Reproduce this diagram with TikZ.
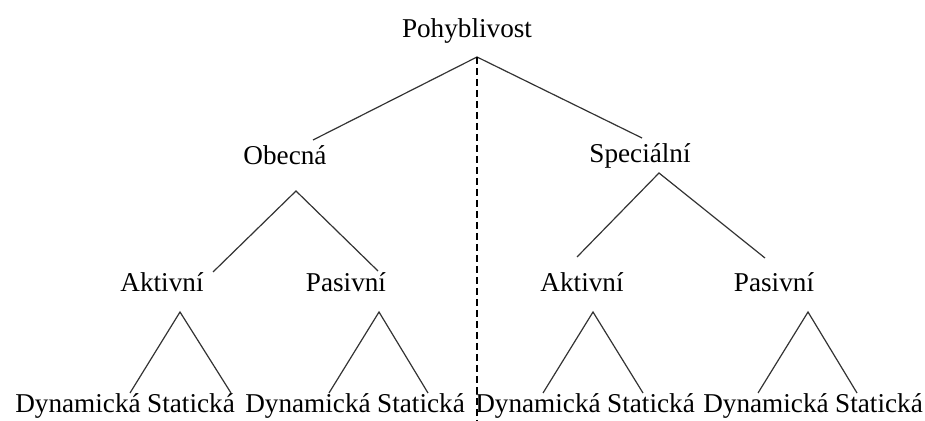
\documentclass[tikz,border=0pt]{standalone}
\usepackage{fontspec}
\setmainfont{Liberation Serif}
\begin{document}
\begin{tikzpicture}[x=0.5pt,y=-0.5pt,
  lbl/.style={anchor=base,inner sep=0pt,font=\fontsize{13.6pt}{16pt}\selectfont},
  edge/.style={line width=0.6pt,draw=black!80},
  divider/.style={line width=0.6pt,draw=black,dash pattern=on 3.5pt off 2pt}]
\useasboundingbox (0,0) rectangle (925,421);

% labels of the tree
\node[lbl] (root) at (467,38) {Pohyblivost};
\node[lbl] (gen)  at (285,165) {Obecná};
\node[lbl] (spec) at (640,163) {Speciální};
\node[lbl] (ga)   at (162,292) {Aktivní};
\node[lbl] (gp)   at (346,292) {Pasivní};
\node[lbl] (sa)   at (582,292) {Aktivní};
\node[lbl] (sp)   at (774,292) {Pasivní};
\node[lbl] (gad)  at (78,413)  {Dynamická};
\node[lbl] (gas)  at (191,413) {Statická};
\node[lbl] (gpd)  at (308,413) {Dynamická};
\node[lbl] (gps)  at (421,413) {Statická};
\node[lbl] (sad)  at (538,413) {Dynamická};
\node[lbl] (sas)  at (651,413) {Statická};
\node[lbl] (spd)  at (766,413) {Dynamická};
\node[lbl] (sps)  at (879,413) {Statická};

% branching points and branch ends
\coordinate (rootJ) at (477,57);
\coordinate (genT)  at (313,140);
\coordinate (specT) at (642,138);
\coordinate (axisB) at (477,421);
\coordinate (genJ)  at (296,191);
\coordinate (gaT)   at (213,272);
\coordinate (gpT)   at (378,271);
\coordinate (specJ) at (659,173);
\coordinate (saT)   at (577,257);
\coordinate (spT)   at (765,258);
\coordinate (gaJ)   at (180,312);
\coordinate (gadT)  at (130,393);
\coordinate (gasT)  at (231,393);
\coordinate (gpJ)   at (379,312);
\coordinate (gpdT)  at (329,393);
\coordinate (gpsT)  at (428,393);
\coordinate (saJ)   at (593,312);
\coordinate (sadT)  at (543,393);
\coordinate (sasT)  at (643,393);
\coordinate (spJ)   at (808,312);
\coordinate (spdT)  at (758,393);
\coordinate (spsT)  at (857,393);

% branches
\draw[edge] (genT) -- (rootJ) -- (specT);
\draw[edge] (gaT) -- (genJ) -- (gpT);
\draw[edge] (saT) -- (specJ) -- (spT);
\draw[edge] (gadT) -- (gaJ) -- (gasT);
\draw[edge] (gpdT) -- (gpJ) -- (gpsT);
\draw[edge] (sadT) -- (saJ) -- (sasT);
\draw[edge] (spdT) -- (spJ) -- (spsT);

% dividing line between the two halves
\draw[divider] (rootJ) -- (axisB);
\end{tikzpicture}
\end{document}
